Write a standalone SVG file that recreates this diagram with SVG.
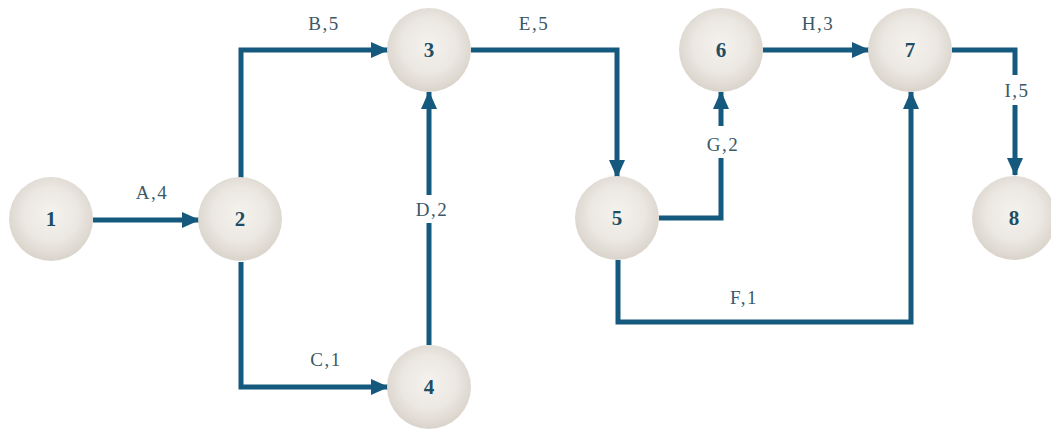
<svg xmlns="http://www.w3.org/2000/svg" width="1051" height="430" viewBox="0 0 1051 430">
  <defs>
    <radialGradient id="ball" cx="50%" cy="45%" r="55%">
      <stop offset="0%" stop-color="#f5f3ef"/>
      <stop offset="60%" stop-color="#ebe7e1"/>
      <stop offset="100%" stop-color="#d9d3cb"/>
    </radialGradient>
    <marker id="head" markerUnits="userSpaceOnUse" markerWidth="18" markerHeight="18" viewBox="0 0 18 18" refX="17" refY="9" orient="auto">
      <path d="M0,1 L18,9 L0,17 Z" fill="#15597f"/>
    </marker>
    <style>
      .node circle { fill: url(#ball); }
      .node text { font-family: "Liberation Serif", "DejaVu Serif", serif; font-weight: bold; font-size: 21px; fill: #1f4e63; text-anchor: middle; }
      .edge { fill: none; stroke: #15597f; stroke-width: 5; stroke-linejoin: miter; }
      .arrow { marker-end: url(#head); }
      .label { font-family: "Liberation Serif", "DejaVu Serif", serif; font-size: 19px; letter-spacing: 1.5px; fill: #3a5868; text-anchor: middle; }
    </style>
  </defs>

  <g id="connectors">
    <!-- A: 1 -> 2 -->
    <path class="edge arrow" d="M93,220 H199"/>
    <!-- B: 2 -> 3 -->
    <path class="edge arrow" d="M241,178 V50 H388"/>
    <!-- C: 2 -> 4 -->
    <path class="edge arrow" d="M241,262 V387 H388"/>
    <!-- D: 4 -> 3, broken around its label -->
    <path class="edge" d="M429,345 V223"/>
    <path class="edge arrow" d="M429,195 V92"/>
    <!-- E: 3 -> 5 -->
    <path class="edge arrow" d="M471,50 H617 V177"/>
    <!-- G: 5 -> 6, broken around its label -->
    <path class="edge" d="M659,218 H721 V158"/>
    <path class="edge arrow" d="M721,126 V92"/>
    <!-- H: 6 -> 7 -->
    <path class="edge arrow" d="M763,50 H869"/>
    <!-- F: 5 -> 7 -->
    <path class="edge arrow" d="M618,260 V322 H911 V92"/>
    <!-- I: 7 -> 8, broken around its label -->
    <path class="edge" d="M952,50 H1015 V75"/>
    <path class="edge arrow" d="M1015,105 V175"/>

    <text class="label" x="152" y="199">A,4</text>
    <text class="label" x="324" y="30">B,5</text>
    <text class="label" x="326" y="366">C,1</text>
    <text class="label" x="432" y="216">D,2</text>
    <text class="label" x="534" y="30">E,5</text>
    <text class="label" x="723" y="151">G,2</text>
    <text class="label" x="818" y="30">H,3</text>
    <text class="label" x="744" y="304">F,1</text>
    <text class="label" x="1017" y="97">I,5</text>
  </g>

  <g id="node1" class="node"><circle cx="51" cy="219" r="42"/><text x="51" y="226">1</text></g>
  <g id="node2" class="node"><circle cx="240" cy="219" r="42"/><text x="240" y="226">2</text></g>
  <g id="node3" class="node"><circle cx="429" cy="50" r="42"/><text x="429" y="57">3</text></g>
  <g id="node4" class="node"><circle cx="429" cy="387" r="42"/><text x="429" y="394">4</text></g>
  <g id="node5" class="node"><circle cx="617" cy="218" r="42"/><text x="617" y="225">5</text></g>
  <g id="node6" class="node"><circle cx="721" cy="50" r="42"/><text x="721" y="57">6</text></g>
  <g id="node7" class="node"><circle cx="910" cy="50" r="42"/><text x="910" y="57">7</text></g>
  <g id="node8" class="node"><circle cx="1014" cy="218" r="42"/><text x="1014" y="225">8</text></g>
</svg>
